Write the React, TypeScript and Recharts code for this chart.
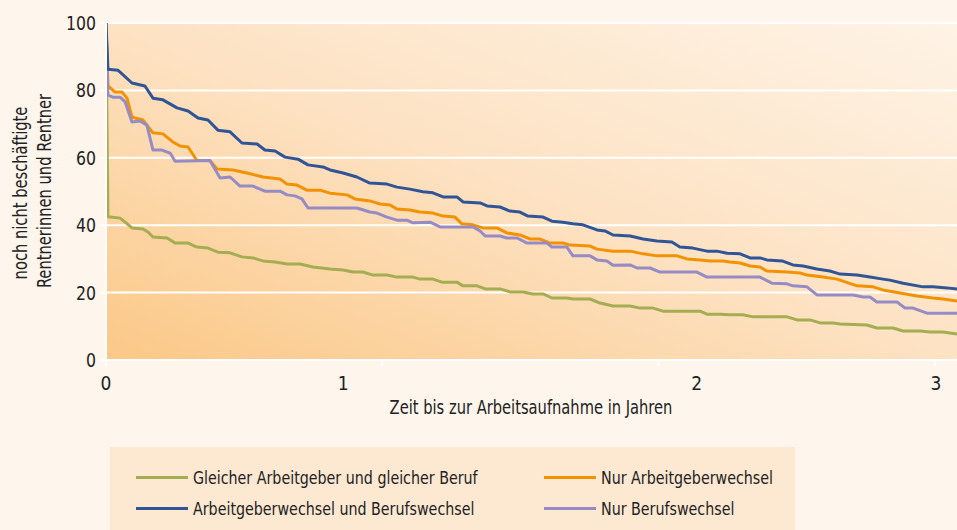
import React from 'react';
import { LineChart, Line, XAxis, YAxis, CartesianGrid } from 'recharts';

const FONT = "'DejaVu Sans Condensed', 'DejaVu Sans', sans-serif";

const xTicks = [0, 1, 2, 3];
const yTicks = [0, 20, 40, 60, 80, 100];
const xTitle = 'Zeit bis zur Arbeitsaufnahme in Jahren';
const yTitle = ['noch nicht beschäftigte', 'Rentnerinnen und Rentner'];

const greenName = 'Gleicher Arbeitgeber und gleicher Beruf';
const orangeName = 'Nur Arbeitgeberwechsel';
const blueName = 'Arbeitgeberwechsel und Berufswechsel';
const purpleName = 'Nur Berufswechsel';

const greenT = [0, 0.007, 0.051, 0.069, 0.094, 0.134, 0.152, 0.17, 0.221, 0.25, 0.297, 0.329, 0.369, 0.405, 0.449, 0.492, 0.532, 0.568, 0.612, 0.655, 0.702, 0.749, 0.811, 0.858, 0.894, 0.93, 0.966, 1.017, 1.053, 1.111, 1.136, 1.183, 1.216, 1.27, 1.292, 1.343, 1.372, 1.426, 1.462, 1.509, 1.545, 1.582, 1.614, 1.668, 1.69, 1.752, 1.788, 1.835, 1.897, 1.933, 1.98, 2.016, 2.15, 2.175, 2.222, 2.258, 2.305, 2.342, 2.465, 2.501, 2.548, 2.584, 2.631, 2.657, 2.754, 2.79, 2.848, 2.885, 2.946, 2.982, 3.029, 3.08];
const greenV = [100, 42.5, 42.1, 40.9, 39.2, 38.9, 38, 36.5, 36.2, 34.7, 34.7, 33.5, 33.2, 32, 31.8, 30.6, 30.3, 29.4, 29.1, 28.5, 28.5, 27.6, 27, 26.7, 26.1, 26.1, 25.2, 25.2, 24.6, 24.6, 24, 24, 23.1, 23.1, 22, 22, 21.1, 21.1, 20.2, 20.2, 19.6, 19.6, 18.4, 18.4, 18.1, 18.1, 16.9, 16, 16, 15.4, 15.4, 14.5, 14.5, 13.6, 13.6, 13.4, 13.4, 12.8, 12.8, 11.9, 11.9, 11, 11, 10.7, 10.4, 9.5, 9.5, 8.6, 8.6, 8.3, 8.3, 7.7];

const orangeT = [0, 0.007, 0.033, 0.058, 0.076, 0.094, 0.105, 0.134, 0.17, 0.206, 0.242, 0.268, 0.297, 0.329, 0.376, 0.402, 0.46, 0.51, 0.568, 0.63, 0.655, 0.691, 0.727, 0.775, 0.811, 0.872, 0.901, 0.955, 0.992, 1.028, 1.053, 1.1, 1.136, 1.183, 1.22, 1.263, 1.288, 1.328, 1.364, 1.415, 1.451, 1.498, 1.535, 1.571, 1.607, 1.654, 1.679, 1.752, 1.777, 1.835, 1.897, 1.944, 1.994, 2.067, 2.103, 2.15, 2.186, 2.233, 2.258, 2.295, 2.331, 2.367, 2.392, 2.465, 2.512, 2.537, 2.595, 2.646, 2.718, 2.776, 2.812, 2.874, 2.935, 2.993, 3.029, 3.08];
const orangeV = [100, 81.3, 79.5, 79.5, 77.7, 72.1, 71.8, 71.2, 67.4, 67.1, 64.7, 63.5, 63.2, 59.2, 59.2, 56.7, 56.4, 55.5, 54.3, 53.7, 52.2, 51.9, 50.4, 50.4, 49.5, 49, 47.8, 47.2, 46.3, 46, 44.8, 44.5, 43.9, 43.6, 42.7, 42.4, 40.4, 40.1, 39.2, 39.2, 37.7, 37.1, 35.9, 35.9, 34.7, 34.7, 34.1, 33.8, 32.9, 32.3, 32.3, 31.5, 30.9, 30.9, 30, 29.7, 29.4, 29.4, 29.1, 28.8, 27.9, 27.6, 26.4, 26.1, 25.8, 25.2, 24.6, 24, 22, 21.7, 20.8, 19.9, 19, 18.4, 18.1, 17.5];

const blueT = [0, 0.007, 0.043, 0.094, 0.141, 0.17, 0.206, 0.257, 0.297, 0.333, 0.369, 0.405, 0.449, 0.492, 0.547, 0.575, 0.612, 0.648, 0.695, 0.731, 0.785, 0.811, 0.858, 0.908, 0.955, 1.017, 1.053, 1.1, 1.147, 1.183, 1.22, 1.27, 1.292, 1.354, 1.379, 1.426, 1.462, 1.498, 1.527, 1.582, 1.614, 1.654, 1.69, 1.726, 1.777, 1.806, 1.835, 1.897, 1.944, 1.994, 2.048, 2.077, 2.124, 2.175, 2.211, 2.248, 2.295, 2.331, 2.367, 2.392, 2.447, 2.486, 2.523, 2.573, 2.62, 2.657, 2.718, 2.765, 2.812, 2.837, 2.885, 2.957, 2.993, 3.044, 3.08];
const blueV = [100, 86.3, 86, 82.2, 81.3, 77.7, 77.2, 74.8, 73.9, 71.8, 71.2, 68.2, 67.7, 64.4, 64.1, 62.3, 62, 60.2, 59.6, 57.9, 57.3, 56.4, 55.5, 54.3, 52.5, 52.2, 51.3, 50.7, 49.9, 49.6, 48.4, 48.4, 46.9, 46.6, 45.7, 45.4, 44.2, 43.9, 42.7, 42.4, 41.2, 40.9, 40.4, 40.1, 38.6, 38.3, 37.1, 36.8, 35.9, 35.3, 35, 33.5, 33.2, 32.3, 32.3, 31.7, 31.5, 30.3, 30.3, 29.7, 29.4, 28.2, 27.9, 27, 26.4, 25.5, 25.2, 24.6, 24, 23.7, 22.8, 21.7, 21.7, 21.4, 21.1];

const purpleT = [0, 0.007, 0.025, 0.051, 0.069, 0.094, 0.123, 0.148, 0.17, 0.203, 0.232, 0.25, 0.376, 0.413, 0.449, 0.485, 0.532, 0.575, 0.63, 0.655, 0.684, 0.709, 0.731, 0.908, 0.955, 0.981, 1.017, 1.053, 1.089, 1.111, 1.173, 1.209, 1.328, 1.354, 1.372, 1.426, 1.451, 1.488, 1.524, 1.596, 1.614, 1.668, 1.69, 1.752, 1.777, 1.813, 1.835, 1.897, 1.922, 1.969, 2.005, 2.139, 2.175, 2.367, 2.41, 2.465, 2.486, 2.537, 2.573, 2.704, 2.74, 2.765, 2.79, 2.863, 2.892, 2.921, 2.971, 3.08];
const purpleV = [100, 78.6, 78, 78, 76.6, 70.6, 70.9, 69.7, 62.3, 62.3, 61.4, 59, 59.2, 54, 54.3, 51.6, 51.6, 50.1, 50.1, 49, 48.7, 47.8, 45.1, 45.1, 43.9, 43.6, 42.4, 41.5, 41.5, 40.7, 40.9, 39.5, 39.5, 38.3, 36.8, 36.8, 36.2, 36.2, 34.7, 34.7, 33.5, 33.5, 30.9, 30.9, 29.7, 29.4, 28.1, 28.2, 27.3, 27.3, 26.1, 26.1, 24.6, 24.6, 22.8, 22.6, 22, 21.7, 19.3, 19.3, 18.7, 18.7, 17.2, 17.2, 15.4, 15.4, 13.9, 13.9];

const zip = (t: number[], v: number[]) => t.map((x, i) => ({ t: x, v: v[i] }));

const series = [
  { name: greenName, color: '#A4AD51', data: zip(greenT, greenV) },
  { name: orangeName, color: '#F39200', data: zip(orangeT, orangeV) },
  { name: purpleName, color: '#978BC6', data: zip(purpleT, purpleV) },
  { name: blueName, color: '#2F5597', data: zip(blueT, blueV) },
];

const legendOrder = [greenName, orangeName, blueName, purpleName];

// label nudges replicating the reference's tick-label placement
const xLabelNudge: Record<number, number> = { 0: 0, 1: -39, 2: 38, 3: 1 };
const TEXT = '#222';

const XTick = (props: any) => {
  const { x, y, payload } = props;
  const dx = xLabelNudge[payload.value] ?? 0;
  return (
    <text x={x + dx} y={y + 22} textAnchor="middle" fontFamily={FONT} fontSize={19} fill={TEXT}>
      {payload.value}
    </text>
  );
};

const YTick = (props: any) => {
  const { x, y, payload } = props;
  return (
    <g transform={`translate(${x - 2},${y + 7}) scale(0.92,1)`}>
      <text x={0} y={0} textAnchor="end" fontFamily={FONT} fontSize={19} fill={TEXT}>
        {payload.value}
      </text>
    </g>
  );
};

export default function App() {
  const colorOf = (n: string) => series.find((s) => s.name === n)!.color;
  return (
    <div style={{ position: 'absolute', left: 0, top: 0, width: 957, height: 530, background: '#FEF5EC', overflow: 'hidden' }}>
      <svg width={0} height={0} style={{ position: 'absolute' }}>
        <defs>
          <linearGradient id="plotBg" x1="0" y1="1" x2="1" y2="0">
            <stop offset="0%" stopColor="#FBC887" />
            <stop offset="50%" stopColor="#FDE2C3" />
            <stop offset="100%" stopColor="#FEF3E6" />
          </linearGradient>
        </defs>
      </svg>
      <LineChart width={957} height={440} margin={{ top: 23, right: 0, bottom: 0, left: 0 }}>
        <CartesianGrid horizontal vertical={false} stroke="#FFFFFF" strokeWidth={2} fill="url(#plotBg)" fillOpacity={1} />
        <XAxis
          type="number"
          dataKey="t"
          domain={[0, 3.08]}
          ticks={xTicks}
          allowDataOverflow
          height={80}
          axisLine={{ stroke: '#FFFFFF', strokeWidth: 2 }}
          tickLine={{ stroke: '#FFFFFF', strokeWidth: 2 }}
          tickSize={6}
          tick={<XTick />}
          label={{
            content: () => (
              <g transform="translate(531,414) scale(0.86,1)">
                <text x={0} y={0} textAnchor="middle" fontFamily={FONT} fontSize={19} fill={TEXT}>{xTitle}</text>
              </g>
            ),
          }}
        />
        <YAxis
          type="number"
          domain={[0, 100]}
          ticks={yTicks}
          width={106}
          axisLine={{ stroke: '#FFFFFF', strokeWidth: 2 }}
          tickLine={{ stroke: '#FFFFFF', strokeWidth: 2 }}
          tickSize={6}
          tick={<YTick />}
          label={{
            content: () => (
              <g>
                <text transform="translate(21,193) rotate(-90) scale(0.86,1)" textAnchor="middle" dominantBaseline="central" fontFamily={FONT} fontSize={19} fill={TEXT}>{yTitle[0]}</text>
                <text transform="translate(45,191) rotate(-90) scale(0.86,1)" textAnchor="middle" dominantBaseline="central" fontFamily={FONT} fontSize={19} fill={TEXT}>{yTitle[1]}</text>
              </g>
            ),
          }}
        />
        {series.map((s) => (
          <Line
            key={s.name}
            data={s.data}
            dataKey="v"
            name={s.name}
            type="linear"
            stroke={s.color}
            strokeWidth={3}
            dot={false}
            activeDot={false}
            isAnimationActive={false}
            strokeLinejoin="round"
          />
        ))}
      </LineChart>
      <div style={{ position: 'absolute', left: 110, top: 447, width: 685, height: 83, background: '#FDE8D2', fontFamily: FONT, fontSize: 18, color: TEXT }}>
        {legendOrder.map((n, i) => {
          const col = i % 2;
          const row = Math.floor(i / 2);
          return (
            <div key={n} style={{ position: 'absolute', left: col === 0 ? 26 : 434, top: row === 0 ? 19 : 50, height: 22, display: 'flex', alignItems: 'center', whiteSpace: 'nowrap' }}>
              <span style={{ display: 'inline-block', width: 52, height: 3, background: colorOf(n), marginRight: 5 }} />
              <span style={{ display: 'inline-block', transform: 'scaleX(0.88)', transformOrigin: 'left center' }}>{n}</span>
            </div>
          );
        })}
      </div>
    </div>
  );
}
